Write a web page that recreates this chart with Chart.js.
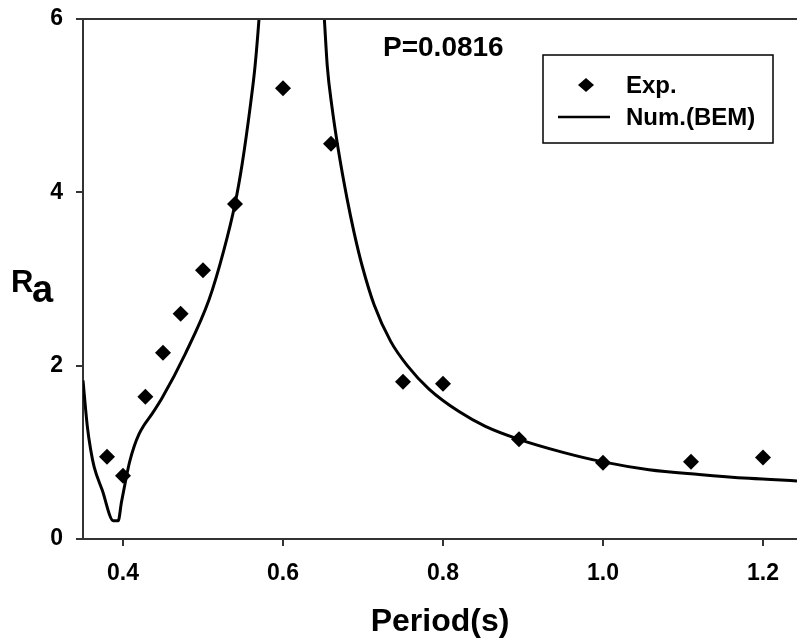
<!DOCTYPE html>
<html>
<head>
<meta charset="utf-8">
<script src="https://cdn.jsdelivr.net/npm/chart.js@4"></script>
<style>
  html, body { margin: 0; padding: 0; background: #fff; }
  #wrap { width: 797px; height: 643px; }
</style>
</head>
<body>
<div id="wrap"><canvas id="c" width="797" height="643"></canvas></div>
<script>
// Measured response amplitude ratio
const expPeriod = [0.38, 0.40, 0.428, 0.45, 0.472, 0.50, 0.54, 0.60, 0.66, 0.75, 0.80, 0.895, 1.00, 1.11, 1.20];
const expRa     = [0.95, 0.73, 1.64, 2.15, 2.60, 3.10, 3.865, 5.20, 4.56, 1.815, 1.79, 1.15, 0.88, 0.89, 0.94];

// Boundary element prediction (resonance peak runs off the top of the plot)
const bemPeriod = [0.35, 0.3554, 0.3596, 0.364, 0.374, 0.388, 0.394, 0.398, 0.403, 0.408, 0.414, 0.42, 0.426, 0.4367, 0.449, 0.478, 0.5075, 0.526, 0.54, 0.549, 0.5596, 0.565, 0.57, 0.58, 0.595, 0.61, 0.625, 0.64, 0.6517, 0.6554, 0.661, 0.669, 0.68, 0.689, 0.699, 0.714, 0.7346, 0.7554, 0.7825, 0.82, 0.853, 0.895, 0.95, 1.00, 1.0575, 1.12, 1.1825, 1.2425];
const bemRa     = [1.83, 1.30, 1.03, 0.83, 0.565, 0.21, 0.21, 0.42, 0.66, 0.88, 1.07, 1.21, 1.31, 1.45, 1.63, 2.14, 2.76, 3.33, 3.865, 4.33, 5.03, 5.45, 6.0, 7.4, 9.5, 10.5, 9.8, 7.8, 6.0, 5.45, 5.00, 4.50, 3.93, 3.53, 3.15, 2.70, 2.28, 2.00, 1.73, 1.47, 1.30, 1.15, 1.00, 0.89, 0.80, 0.745, 0.70, 0.67];

const xTicks = [0.4, 0.6, 0.8, 1.0, 1.2];
const yTicks = [0, 2, 4, 6];
const seriesNames = ['Exp.', 'Num.(BEM)'];
const annotation = 'P=0.0816';

const FONT = "'Liberation Sans', Arial, sans-serif";
const AXIS = '#333333';

const toXY = (xs, ys) => xs.map((x, i) => ({ x: x, y: ys[i] }));

// Keep tick labels from pushing the plot area inward
function noEdgePadding(s) {
  s.paddingTop = 0; s.paddingBottom = 0; s.paddingLeft = 0; s.paddingRight = 0;
}

// Frame top line, y-axis label with subscript, annotation text and boxed legend
const decorations = {
  id: 'decorations',
  afterDraw(chart) {
    const ctx = chart.ctx;
    const a = chart.chartArea;
    ctx.save();
    ctx.strokeStyle = AXIS;
    ctx.lineWidth = 2;
    ctx.beginPath();
    ctx.moveTo(a.left - 7, a.top);
    ctx.lineTo(a.right, a.top);
    ctx.stroke();

    ctx.fillStyle = '#000';
    ctx.textAlign = 'left';
    ctx.textBaseline = 'alphabetic';
    ctx.font = 'bold 31px ' + FONT;
    ctx.fillText('R', 11, 292);
    ctx.font = 'bold 38px ' + FONT;
    ctx.fillText('a', 32, 302);

    ctx.font = 'bold 28px ' + FONT;
    ctx.fillText(annotation, 383, 56);

    // legend box
    ctx.strokeStyle = '#000';
    ctx.lineWidth = 1.5;
    ctx.strokeRect(543, 55, 230, 88);
    ctx.font = 'bold 24px ' + FONT;
    ctx.textBaseline = 'middle';
    ctx.fillText(seriesNames[0], 626, 86);
    ctx.fillText(seriesNames[1], 626, 118);
    ctx.beginPath();
    ctx.moveTo(586, 78); ctx.lineTo(594, 85); ctx.lineTo(586, 92); ctx.lineTo(578, 85);
    ctx.closePath();
    ctx.fill();
    ctx.lineWidth = 2.5;
    ctx.beginPath();
    ctx.moveTo(558, 117);
    ctx.lineTo(610, 117);
    ctx.stroke();
    ctx.restore();
  }
};

new Chart(document.getElementById('c'), {
  type: 'scatter',
  data: {
    datasets: [
      {
        label: seriesNames[0],
        data: toXY(expPeriod, expRa),
        pointStyle: 'rectRot',
        pointRadius: 8,
        pointBackgroundColor: '#000',
        pointBorderColor: '#000',
        pointBorderWidth: 0,
        showLine: false,
        order: 0
      },
      {
        label: seriesNames[1],
        data: toXY(bemPeriod, bemRa),
        showLine: true,
        pointRadius: 0,
        borderColor: '#000',
        borderWidth: 3,
        cubicInterpolationMode: 'monotone',
        fill: false,
        order: 1
      }
    ]
  },
  options: {
    responsive: false,
    animation: false,
    devicePixelRatio: 1,
    layout: { autoPadding: false, padding: { top: 19, left: 0, right: 0, bottom: 0 } },
    plugins: { legend: { display: false }, tooltip: { enabled: false } },
    scales: {
      x: {
        type: 'linear',
        min: 0.35,
        max: 1.2425,
        afterFit(s) { s.height = 104; noEdgePadding(s); },
        afterBuildTicks(s) { s.ticks = xTicks.map(v => ({ value: v })); },
        border: { display: true, color: AXIS, width: 2 },
        grid: { display: true, drawOnChartArea: false, drawTicks: true, tickLength: 7, color: AXIS, lineWidth: 2 },
        ticks: {
          color: '#000',
          font: { family: FONT, size: 23, weight: 'bold' },
          padding: 14,
          maxRotation: 0,
          callback: v => v.toFixed(1)
        },
        title: {
          display: true,
          text: 'Period(s)',
          color: '#000',
          font: { family: FONT, size: 32, weight: 'bold' },
          padding: { top: 0, bottom: 2 }
        }
      },
      y: {
        type: 'linear',
        min: 0,
        max: 6,
        afterFit(s) { s.width = 83; noEdgePadding(s); },
        afterBuildTicks(s) { s.ticks = yTicks.map(v => ({ value: v })); },
        border: { display: true, color: AXIS, width: 2 },
        grid: { display: true, drawOnChartArea: false, drawTicks: true, tickLength: 7, color: AXIS, lineWidth: 2 },
        ticks: {
          color: '#000',
          font: { family: FONT, size: 23, weight: 'bold' },
          padding: 13,
          callback: v => String(v)
        }
      }
    }
  },
  plugins: [decorations]
});
</script>
</body>
</html>
